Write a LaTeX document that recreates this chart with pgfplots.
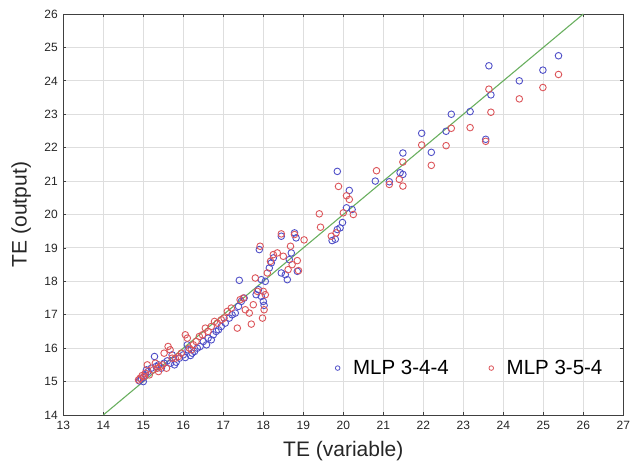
\documentclass[border=0pt]{standalone}
\usepackage{fontspec}
\setmainfont{Liberation Sans}
\usepackage{pgfplots}
\pgfplotsset{compat=1.18}
\definecolor{blueM}{RGB}{80,80,200}
\definecolor{redM}{RGB}{220,85,90}
\definecolor{lineG}{RGB}{105,175,95}
\definecolor{gridC}{RGB}{222,222,222}
\begin{document}
\begin{tikzpicture}
\begin{axis}[
  scale only axis,
  width=560pt, height=401pt,
  xmin=13, xmax=27, ymin=14, ymax=26,
  xtick={13,...,27}, ytick={14,...,26},
  grid=major,
  major grid style={gridC, line width=0.9pt},
  axis line style={black!75, line width=0.9pt},
  tick align=inside,
  tick style={black!75, line width=0.8pt},
  major tick length=3pt,
  /pgf/number format/assume math mode=true,
  tick label style={font=\fontsize{12}{14}\selectfont, black!85},
  xticklabel style={yshift=-3pt},
  yticklabel style={xshift=-2pt},
  xlabel={TE (variable)}, ylabel={TE (output)},
  every axis x label/.style={at={(axis description cs:0.5,0)}, anchor=center, yshift=-36pt, font=\fontsize{21}{24}\selectfont, black!85},
  every axis y label/.style={at={(axis description cs:0,0.5)}, anchor=center, rotate=90, yshift=42pt, font=\fontsize{21}{24}\selectfont, black!85},
  legend style={draw=none, fill=none, font=\fontsize{20.5}{24}\selectfont, at={(rel axis cs:0.972,0.117)}, anchor=east, column sep=0pt,
    /tikz/every even column/.append style={column sep=37pt}},
  legend columns=2,
  legend image code/.code={\path (-3pt,0) (13pt,0); \draw[mark size=2.3pt, line width=0.8pt] plot coordinates {(0pt,0pt)};},
]
\addplot[lineG, line width=1.1pt, forget plot] coordinates {(14,14) (26,26)};
\addplot[only marks, mark=o, mark size=3.3pt, blueM, line width=0.9pt] coordinates {
(14.90,15.02) (14.95,15.08) (15.00,15.12) (15.00,15.00) (15.05,15.20)
(15.08,15.35) (15.12,15.30) (15.20,15.40) (15.28,15.75) (15.32,15.45)
(15.38,15.50) (15.45,15.40) (15.52,15.55) (15.60,15.62) (15.68,15.55)
(15.72,15.80) (15.78,15.50) (15.82,15.58) (15.90,15.70) (16.00,15.80)
(16.05,15.72) (16.10,16.10) (16.12,15.95) (16.18,15.78) (16.22,15.85)
(16.28,15.90) (16.35,16.00) (16.42,16.05) (16.50,16.20) (16.58,16.10)
(16.62,16.30) (16.70,16.25) (16.75,16.40) (16.82,16.50) (16.88,16.55)
(16.95,16.65) (17.05,16.75) (17.15,16.90) (17.22,17.00) (17.30,17.05)
(17.38,17.25) (17.45,17.40) (17.52,17.50) (17.40,18.03) (17.82,17.60)
(17.88,17.75) (17.95,17.55) (18.00,17.40) (18.02,17.28) (17.90,18.95)
(17.95,18.05) (18.05,18.00) (18.15,18.40) (18.20,18.55) (18.25,18.70)
(18.45,19.35) (18.45,18.25) (18.55,18.20) (18.60,18.05) (18.65,18.65)
(18.70,18.85) (18.78,19.45) (18.82,19.30) (18.85,18.30) (19.72,19.22)
(19.80,19.26) (19.85,19.55) (19.92,19.60) (19.98,19.76) (19.85,21.29)
(20.08,20.20) (20.15,20.72) (20.22,20.15) (20.80,21.00) (21.15,20.98)
(21.42,21.25) (21.49,21.20) (21.49,21.84) (21.96,22.43) (22.20,21.86)
(22.57,22.49) (22.70,23.00) (23.17,23.08) (23.56,22.25) (23.64,24.45)
(23.69,23.58) (24.40,24.00) (24.99,24.32) (25.38,24.75)
};
\addlegendentry{MLP 3-4-4}
\addplot[only marks, mark=o, mark size=3.3pt, redM, line width=0.9pt] coordinates {
(14.88,15.05) (14.92,15.10) (14.97,15.18) (15.02,15.15) (15.05,15.25)
(15.10,15.50) (15.15,15.20) (15.25,15.35) (15.30,15.55) (15.35,15.40)
(15.38,15.30) (15.42,15.45) (15.48,15.50) (15.52,15.85) (15.58,15.40)
(15.62,16.05) (15.67,15.95) (15.72,15.70) (15.80,15.70) (15.88,15.75)
(15.95,15.85) (16.05,16.40) (16.10,16.30) (16.15,16.00) (16.20,15.95)
(16.25,16.10) (16.32,16.20) (16.40,16.35) (16.48,16.40) (16.55,16.60)
(16.62,16.50) (16.70,16.65) (16.78,16.80) (16.85,16.75) (16.95,16.85)
(17.02,16.90) (17.10,17.10) (17.20,17.20) (17.35,16.60) (17.42,17.45)
(17.50,17.50) (17.55,17.15) (17.65,17.05) (17.70,16.72) (17.75,17.30)
(17.80,18.10) (17.85,17.70) (17.92,19.05) (17.98,16.90) (18.00,17.70)
(18.02,17.15) (18.05,17.60) (18.10,18.25) (18.18,18.60) (18.25,18.80)
(18.35,18.85) (18.45,19.42) (18.50,18.75) (18.62,18.35) (18.68,19.05)
(18.72,18.50) (18.78,19.40) (18.85,18.62) (18.88,18.32) (19.02,19.24)
(19.40,20.02) (19.43,19.62) (19.70,19.35) (19.82,19.45) (19.88,20.84)
(20.00,20.05) (20.08,20.56) (20.15,20.45) (20.25,20.00) (20.83,21.31)
(21.15,20.90) (21.40,21.05) (21.49,21.57) (21.49,20.85) (21.96,22.08)
(22.20,21.47) (22.57,22.06) (22.70,22.58) (23.17,22.60) (23.56,22.19)
(23.64,23.75) (23.69,23.06) (24.40,23.46) (24.99,23.80) (25.38,24.19)
};
\addlegendentry{MLP 3-5-4}
\path (rel axis cs:0,0) ++(-63.3pt,-53pt) coordinate (bl);
\path (rel axis cs:1,1) ++(19.7pt,14pt) coordinate (tr);
\end{axis}
\pgfresetboundingbox
\path[use as bounding box] (bl) rectangle (tr);
\end{tikzpicture}
\end{document}
